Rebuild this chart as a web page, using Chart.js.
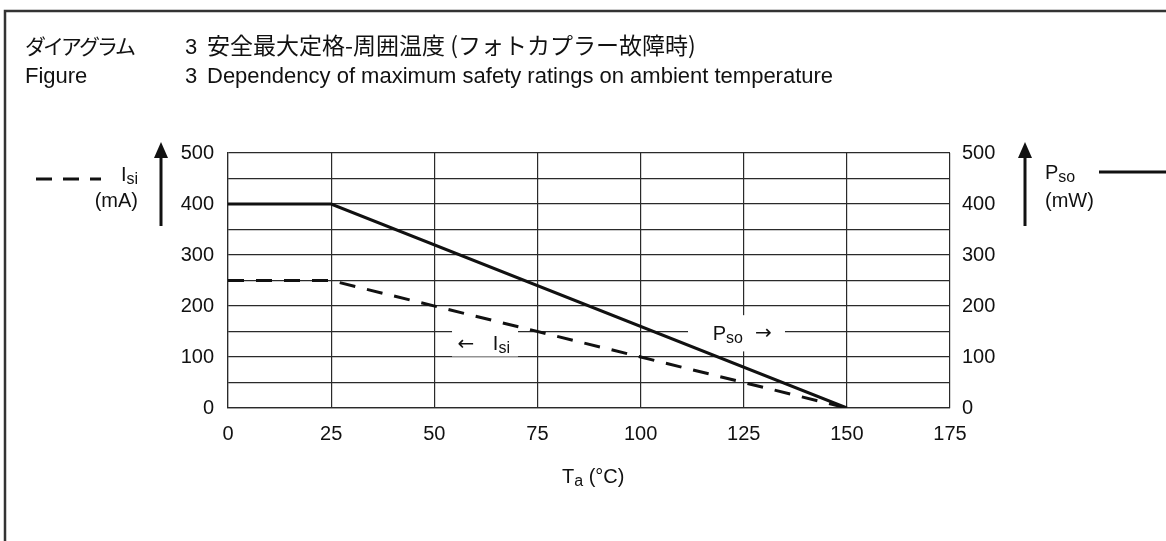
<!DOCTYPE html>
<html>
<head>
<meta charset="utf-8">
<script src="https://cdn.jsdelivr.net/npm/chart.js@4.4.1/dist/chart.umd.min.js"></script>
<style>
  html, body { margin: 0; padding: 0; background: #fff; }
  #wrap { width: 1166px; height: 541px; }
</style>
</head>
<body>
<div id="wrap"><canvas id="chart-safety" width="1166" height="541"></canvas></div>
<script>
/* Safety ratings vs ambient temperature (Isi dashed on left axis, Pso solid on right axis) */

const temps = [0, 25, 150];
const isiValues = [250, 250, 0];   // mA
const psoValues = [400, 400, 0];   // mW
const xMax = 175;
const yMax = 500;
const xStep = 25;
const yGridStep = 50;
const yLabelStep = 100;

const LATIN = '"Liberation Sans", Arial, sans-serif';
const CJK = '"Noto Sans CJK JP", "Liberation Sans", sans-serif';
const ARROWS = '"DejaVu Sans", sans-serif';
const INK = '#111';
const GRID = '#2a2a2a';

// text with subscript, returns x after it
function subText(ctx, x, y, main, sub, size, subSize) {
  ctx.font = size + 'px ' + LATIN;
  ctx.fillText(main, x, y);
  const w = ctx.measureText(main).width;
  ctx.font = subSize + 'px ' + LATIN;
  ctx.fillText(sub, x + w, y + 3);
  return x + w + ctx.measureText(sub).width;
}

function upArrow(ctx, x, top, bottom) {
  ctx.beginPath();
  ctx.moveTo(x, bottom);
  ctx.lineTo(x, top + 12);
  ctx.lineWidth = 3;
  ctx.stroke();
  ctx.beginPath();
  ctx.moveTo(x, top);
  ctx.lineTo(x - 7, top + 16);
  ctx.lineTo(x + 7, top + 16);
  ctx.closePath();
  ctx.fill();
}

const decor = {
  id: 'decor',
  beforeDatasetsDraw(chart) {
    const { ctx, scales: { x, y } } = chart;
    ctx.save();
    ctx.fillStyle = '#fff';
    // label boxes that break the grid
    const boxes = [[54.3, 70.3, 163, 101], [111.5, 135, 182, 111]];
    boxes.forEach(b => {
      const x0 = x.getPixelForValue(b[0]), x1 = x.getPixelForValue(b[1]);
      const y0 = y.getPixelForValue(b[2]), y1 = y.getPixelForValue(b[3]);
      ctx.fillRect(x0, y0, x1 - x0, y1 - y0);
    });
    ctx.restore();
  },
  afterDraw(chart) {
    const { ctx, scales: { x, y } } = chart;
    ctx.save();
    ctx.fillStyle = INK;
    ctx.strokeStyle = INK;
    ctx.textBaseline = 'alphabetic';

    // frame
    ctx.strokeStyle = '#333';
    ctx.lineWidth = 2.5;
    ctx.beginPath();
    ctx.moveTo(5, 560);
    ctx.lineTo(5, 11);
    ctx.lineTo(1180, 11);
    ctx.stroke();
    ctx.strokeStyle = INK;

    // title
    ctx.font = '21px ' + CJK;
    ctx.letterSpacing = '-3px';
    ctx.fillText('ダイアグラム', 25, 54);
    ctx.letterSpacing = '0px';
    ctx.font = '22px ' + LATIN;
    ctx.fillText('3', 185, 54);
    ctx.font = '23px ' + CJK;
    ctx.fillText('安全最大定格-周囲温度 (フォトカプラー故障時)', 207, 54);
    ctx.font = '22px ' + LATIN;
    ctx.fillText('Figure', 25, 83);
    ctx.fillText('3', 185, 83);
    ctx.fillText('Dependency of maximum safety ratings on ambient temperature', 207, 83);

    // left axis legend: dashed sample, Isi (mA), arrow
    ctx.lineWidth = 3;
    ctx.setLineDash([16, 11]);
    ctx.beginPath();
    ctx.moveTo(36, 179);
    ctx.lineTo(101, 179);
    ctx.stroke();
    ctx.setLineDash([]);
    ctx.font = '20px ' + LATIN;
    const w1 = ctx.measureText('I').width;
    ctx.font = '16px ' + LATIN;
    const w2 = ctx.measureText('si').width;
    subText(ctx, 138 - w1 - w2, 181, 'I', 'si', 20, 16);
    ctx.font = '20px ' + LATIN;
    ctx.textAlign = 'right';
    ctx.fillText('(mA)', 138, 207);
    ctx.textAlign = 'left';
    upArrow(ctx, 161, 142, 226);

    // right axis legend
    upArrow(ctx, 1025, 142, 226);
    subText(ctx, 1045, 179, 'P', 'so', 20, 16);
    ctx.font = '20px ' + LATIN;
    ctx.fillText('(mW)', 1045, 207);
    ctx.lineWidth = 3;
    ctx.beginPath();
    ctx.moveTo(1099, 172);
    ctx.lineTo(1166, 172);
    ctx.stroke();

    // in-plot labels
    ctx.font = '20px ' + ARROWS;
    ctx.fillText('←', x.getPixelForValue(55.6), y.getPixelForValue(113));
    subText(ctx, x.getPixelForValue(64.2), y.getPixelForValue(113), 'I', 'si', 20, 16);
    const py = y.getPixelForValue(134);
    const px = subText(ctx, x.getPixelForValue(117.5), py, 'P', 'so', 20, 16);
    ctx.font = '20px ' + ARROWS;
    ctx.fillText('→', px + 12, py - 1);

    // x axis title
    const tx = subText(ctx, 562, 483, 'T', 'a', 20, 16);
    ctx.font = '20px ' + LATIN;
    ctx.fillText(' (°C)', tx, 483);
    ctx.restore();
  }
};

const tickFont = { family: LATIN, size: 20 };

createSafetyChart();

function createSafetyChart() {
  const ctx = document.getElementById('chart-safety');
  new Chart(ctx, {
    type: 'line',
    data: {
      datasets: [
        {
          label: 'Pso',
          data: temps.map((t, i) => ({ x: t, y: psoValues[i] })),
          borderColor: INK,
          borderWidth: 3,
          pointRadius: 0,
          tension: 0,
          yAxisID: 'y1',
        },
        {
          label: 'Isi',
          data: temps.map((t, i) => ({ x: t, y: isiValues[i] })),
          borderColor: INK,
          borderWidth: 3,
          borderDash: [16, 12],
          pointRadius: 0,
          tension: 0,
          yAxisID: 'y',
        },
      ],
    },
    options: {
      responsive: false,
      animation: false,
      layout: { padding: { top: 153, left: 0, right: 0, bottom: 0 } },
      plugins: { legend: { display: false }, tooltip: { enabled: false } },
      scales: {
        x: {
          type: 'linear',
          min: 0,
          max: xMax,
          ticks: { stepSize: xStep, font: tickFont, color: INK, padding: 14, maxRotation: 0, autoSkip: false },
          grid: { color: GRID, lineWidth: 1.2, drawTicks: false },
          border: { color: GRID, width: 1.2 },
          afterFit: s => { s.height = 133; },
        },
        y: {
          position: 'left',
          min: 0,
          max: yMax,
          ticks: {
            stepSize: yGridStep,
            autoSkip: false,
            font: tickFont,
            color: INK,
            padding: 14,
            callback: v => (v % yLabelStep === 0 ? v : ''),
          },
          grid: { color: GRID, lineWidth: 1.2, drawTicks: false },
          border: { color: GRID, width: 1.2 },
          afterFit: s => { s.width = 228; },
        },
        y1: {
          position: 'right',
          min: 0,
          max: yMax,
          ticks: {
            stepSize: yGridStep,
            autoSkip: false,
            font: tickFont,
            color: INK,
            padding: 12,
            callback: v => (v % yLabelStep === 0 ? v : ''),
          },
          grid: { display: false, drawTicks: false },
          border: { display: false },
          afterFit: s => { s.width = 216; },
        },
      },
    },
    plugins: [decor],
  });
}
</script>
</body>
</html>
